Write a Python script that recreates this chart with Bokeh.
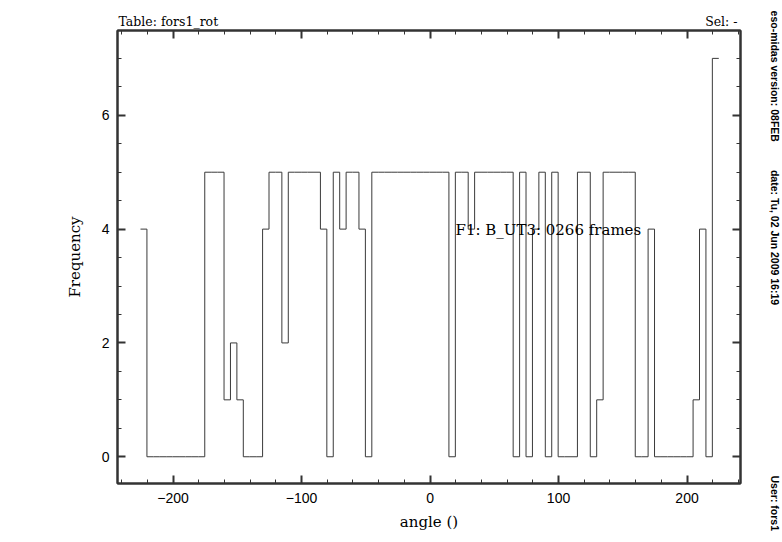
import numpy as np
from math import pi
from bokeh.plotting import figure
from bokeh.models import Range1d, LinearAxis, FixedTicker, Label
from bokeh.embed import file_html
from bokeh.resources import INLINE

# ---- data (histogram of rotator angle, 5-degree bins) ----
bin_start = -225.3
bin_width = 5.0
counts = [4,
          0, 0, 0, 0, 0, 0, 0, 0, 0,
          5, 5, 5,
          1, 2, 1,
          0, 0, 0,
          4, 5, 5, 2,
          5, 5, 5, 5, 5,
          4, 0, 5, 4, 5, 5, 4, 0,
          5, 5, 5, 5, 5, 5, 5, 5, 5, 5, 5, 5,
          0, 5, 5, 4,
          5, 5, 5, 5, 5, 5,
          0, 5, 0, 4, 5, 0, 5,
          0, 0, 0,
          5, 5, 0, 1,
          5, 5, 5, 5, 5,
          0, 0, 4,
          0, 0, 0, 0, 0, 0,
          1, 4, 0, 7]

x_ticks = [-200, -100, 0, 100, 200]
x_tick_labels = ["\u2212200", "\u2212100", "0", "100", "200"]
x_minor = [-240, -220, -200, -180, -160, -140, -120, -100, -80, -60, -40, -20,
           0, 20, 40, 60, 80, 100, 120, 140, 160, 180, 200, 220, 240]
y_ticks = [0, 2, 4, 6]
y_minor = [-0.5, 0, 0.5, 1, 1.5, 2, 2.5, 3, 3.5, 4, 4.5, 5, 5.5, 6, 6.5, 7, 7.5]

table_text = "Table: fors1_rot"
sel_text = "Sel: -"
info_text = "F1: B_UT3: 0266 frames"
version_text = "eso-midas version: 08FEB"
date_text = "date: Tu, 02 Jun 2009 16:19"
user_text = "User: fors1"

edges = bin_start + bin_width * np.arange(len(counts) + 1)
step_y = counts + [counts[-1]]

X0, X1 = -243.2, 241.6
Y0, Y1 = -0.47, 7.49

p = figure(width=782, height=542, x_range=Range1d(X0, X1), y_range=Range1d(Y0, Y1),
           output_backend="svg", toolbar_location=None,
           min_border_left=117, min_border_right=42, min_border_top=28, min_border_bottom=59,
           background_fill_color="white", border_fill_color="white")
p.grid.visible = False
p.outline_line_color = "#333333"
p.outline_line_width = 2

AX = "#333333"
SANS = "Liberation Sans"
SERIF = "DejaVu Serif"


def style(ax, show_labels):
    ax.axis_line_color = AX
    ax.axis_line_width = 2
    ax.major_tick_in = 8
    ax.major_tick_out = 0
    ax.minor_tick_in = 4
    ax.minor_tick_out = 0
    ax.major_tick_line_color = AX
    ax.major_tick_line_width = 2
    ax.minor_tick_line_color = AX
    ax.minor_tick_line_width = 1
    ax.major_label_text_font = SANS
    ax.major_label_text_font_size = "14px"
    ax.major_label_text_color = "black" if show_labels else None
    ax.major_label_standoff = 9
    ax.axis_label_text_font = SERIF
    ax.axis_label_text_font_size = "15px"
    ax.axis_label_text_font_style = "normal"
    ax.axis_label_text_color = "black"


xt = FixedTicker(ticks=x_ticks, minor_ticks=x_minor)
yt = FixedTicker(ticks=y_ticks, minor_ticks=y_minor)

xb = p.xaxis[0]
xb.ticker = xt
xb.major_label_overrides = {t: s for t, s in zip(x_ticks, x_tick_labels)}
xb.axis_label = "angle ()"
style(xb, True)
xb.axis_label_standoff = 7

yl = p.yaxis[0]
yl.ticker = yt
yl.axis_label = "Frequency"
style(yl, True)
yl.major_label_standoff = 8
yl.axis_label_standoff = 15

xa = LinearAxis(ticker=FixedTicker(ticks=x_ticks, minor_ticks=x_minor))
style(xa, False)
xa.major_label_text_font_size = "0px"
xa.major_label_standoff = 0
p.add_layout(xa, "above")

yr = LinearAxis(ticker=FixedTicker(ticks=y_ticks, minor_ticks=y_minor))
style(yr, False)
yr.major_label_text_font_size = "0px"
yr.major_label_standoff = 0
p.add_layout(yr, "right")

p.step(x=edges, y=step_y, mode="after", line_color="#3a3a3a", line_width=1)

p.add_layout(Label(x=X0, y=Y1, text=table_text, x_offset=1, y_offset=9,
                   text_font=SERIF, text_font_size="12.5px", text_color="black",
                   text_baseline="middle", text_align="left"), "above")
p.add_layout(Label(x=X1, y=Y1, text=sel_text, x_offset=-3, y_offset=9,
                   text_font=SERIF, text_font_size="12.5px", text_color="black",
                   text_baseline="middle", text_align="right"), "above")
p.add_layout(Label(x=19.8, y=3.98, text=info_text,
                   text_font=SERIF, text_font_size="15px", text_color="black",
                   text_baseline="middle", text_align="left"))

side_x = 268.1
for txt, yy in [(version_text, 7.84), (date_text, 5.04), (user_text, -0.33)]:
    p.add_layout(Label(x=side_x, y=yy, text=txt, angle=-pi / 2,
                       text_font=SANS, text_font_size="10.5px", text_font_style="bold",
                       text_color="black", text_baseline="middle", text_align="left"), "right")

open("out.html", "w").write(file_html(p, INLINE))
